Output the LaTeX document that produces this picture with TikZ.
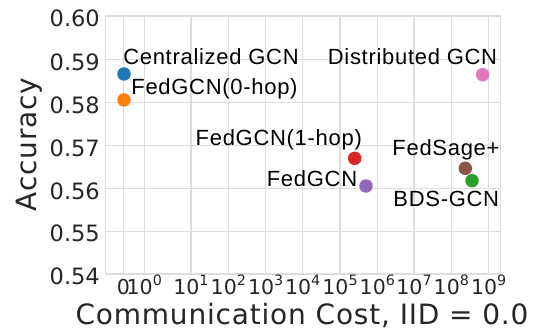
\documentclass[tikz,border=0pt]{standalone}
\usepackage{fontspec}
\newfontfamily\axisfont{DejaVu Sans}
\newfontfamily\labelfont[LetterSpace=2.9]{DejaVu Sans}
\newfontfamily\notefont[LetterSpace=3.2]{Liberation Sans}
\definecolor{tabblue}{HTML}{1F77B4}
\definecolor{taborange}{HTML}{FF7F0E}
\definecolor{tabgreen}{HTML}{2CA02C}
\definecolor{tabred}{HTML}{D62728}
\definecolor{tabpurple}{HTML}{9467BD}
\definecolor{tabbrown}{HTML}{8C564B}
\definecolor{tabpink}{HTML}{E377C2}
\definecolor{ink}{HTML}{262626}
\definecolor{gridc}{HTML}{DDDDDD}
% superscript exponent for the log ticks
\newcommand\expo[1]{\raisebox{0.45em}{\fontsize{14.3}{14.3}\selectfont #1}}
\tikzset{
  gridline/.style={draw=gridc, line width=1.1pt},
  frameline/.style={draw=gridc, line width=1.2pt},
  dot/.style={circle, inner sep=0pt, minimum size=13.5pt, draw=none},
  ytick/.style={anchor=base east, inner sep=0pt, text=ink,
    font=\axisfont\fontsize{22.5}{22.5}\selectfont},
  xtick/.style={anchor=base, inner sep=0pt, text=ink,
    font=\axisfont\fontsize{20.5}{20.5}\selectfont},
  axlabel/.style={anchor=base, inner sep=0pt, text=ink,
    font=\labelfont\fontsize{28}{28}\selectfont},
  note/.style={anchor=base, inner sep=0pt, text=black,
    font=\notefont\fontsize{22}{22}\selectfont},
}
\begin{document}
\begin{tikzpicture}[x=1pt, y=-1pt]
\useasboundingbox[fill=white] (0,0) rectangle (534,331);

% plot corners
\coordinate (tl) at (105.7,16);
\coordinate (br) at (500.5,274);

% grid: vertical lines at the x ticks
\foreach \gx in {123.3,144.3,191,228.3,265.7,302.7,340,377.3,414,451.3,488.7}
  \draw[gridline] (\gx,16) -- (\gx,274);
% grid: horizontal lines at the y ticks
\foreach \gy in {59.8,102.8,145.8,188.6,231.3}
  \draw[gridline] (105.7,\gy) -- (500.5,\gy);
\draw[frameline] (tl) rectangle (br);

% y tick labels
\node[ytick] (y060) at (100,26.6) {0.60};
\node[ytick] (y059) at (100,70.4) {0.59};
\node[ytick] (y058) at (100,113.4) {0.58};
\node[ytick] (y057) at (100,156.4) {0.57};
\node[ytick] (y056) at (100,199.2) {0.56};
\node[ytick] (y055) at (100,241.9) {0.55};
\node[ytick] (y054) at (100,284.6) {0.54};

% x tick labels (symlog axis)
\node[xtick] (x0) at (123.3,294.5) {0};
\node[xtick] (x1) at (144.3,294.5) {10\expo{0}};
\node[xtick] (x2) at (191,294.5) {10\expo{1}};
\node[xtick] (x3) at (228.3,294.5) {10\expo{2}};
\node[xtick] (x4) at (265.7,294.5) {10\expo{3}};
\node[xtick] (x5) at (302.7,294.5) {10\expo{4}};
\node[xtick] (x6) at (340,294.5) {10\expo{5}};
\node[xtick] (x7) at (377.3,294.5) {10\expo{6}};
\node[xtick] (x8) at (414,294.5) {10\expo{7}};
\node[xtick] (x9) at (451.3,294.5) {10\expo{8}};
\node[xtick] (x10) at (488.7,294.5) {10\expo{9}};

% axis labels
\node[axlabel] (xlab) at (302,324.5) {Communication Cost, IID = 0.0};
\node[axlabel, rotate=90] (ylab) at (36,144.5) {Accuracy};

% data points
\node[dot, fill=tabblue] (pcent) at (124,74) {};
\node[dot, fill=taborange] (pzero) at (124,100) {};
\node[dot, fill=tabred] (pone) at (354.7,158.3) {};
\node[dot, fill=tabpurple] (pfed) at (366,186) {};
\node[dot, fill=tabpink] (pdist) at (482.7,74.7) {};
\node[dot, fill=tabbrown] (psage) at (465.3,168.3) {};
\node[dot, fill=tabgreen] (pbds) at (472,180.7) {};

% point annotations
\node[note] (lcent) at (211,65) {Centralized GCN};
\node[note] (lzero) at (214.5,95) {FedGCN(0-hop)};
\node[note] (ldist) at (412.5,65) {Distributed GCN};
\node[note] (lone) at (278.8,145) {FedGCN(1-hop)};
\node[note] (lsage) at (446,155) {FedSage+};
\node[note] (lfed) at (312,186.7) {FedGCN};
\node[note] (lbds) at (446.3,206.7) {BDS-GCN};
\end{tikzpicture}
\end{document}
